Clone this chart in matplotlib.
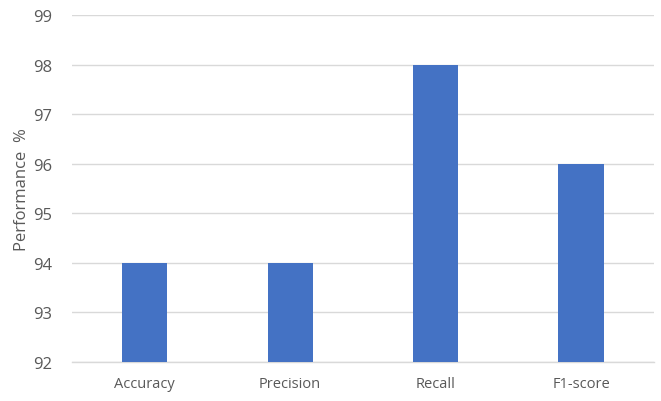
import matplotlib
matplotlib.use("Agg")
import matplotlib.pyplot as plt

categories = ["Accuracy", "Precision", "Recall", "F1-score"]
performance = [94, 94, 98, 96]
y_ticks = [92, 93, 94, 95, 96, 97, 98, 99]

plt.rcParams["font.family"] = ["Open Sans", "DejaVu Sans"]
text_color = "#595959"
grid_color = "#d9d9d9"
bar_color = "#4472c4"

fig = plt.figure(figsize=(6.61, 4.02), dpi=100)
ax = fig.add_axes([0.109, 0.097, 0.880, 0.863])

x = range(len(categories))
ax.bar(x, [v - y_ticks[0] for v in performance], bottom=y_ticks[0],
       width=0.31, color=bar_color, zorder=3)

ax.set_xlim(-0.5, len(categories) - 0.5)
ax.set_ylim(y_ticks[0], y_ticks[-1])
ax.set_yticks(y_ticks)
ax.set_xticks(list(x))
ax.set_xticklabels(categories)

ax.yaxis.grid(True, color=grid_color, linewidth=1.0, zorder=0)
ax.set_axisbelow(True)
for side in ["top", "right", "left"]:
    ax.spines[side].set_visible(False)
ax.spines["bottom"].set_color(grid_color)
ax.spines["bottom"].set_linewidth(1.0)
ax.tick_params(axis="both", length=0, colors=text_color)
ax.tick_params(axis="y", labelsize=12, pad=14)
ax.tick_params(axis="x", labelsize=10.5, pad=10)

ax.set_ylabel("Performance  %", fontsize=12, color=text_color)
ax.yaxis.set_label_coords(-0.072, 0.5)

fig.savefig("out.png", dpi=100)
